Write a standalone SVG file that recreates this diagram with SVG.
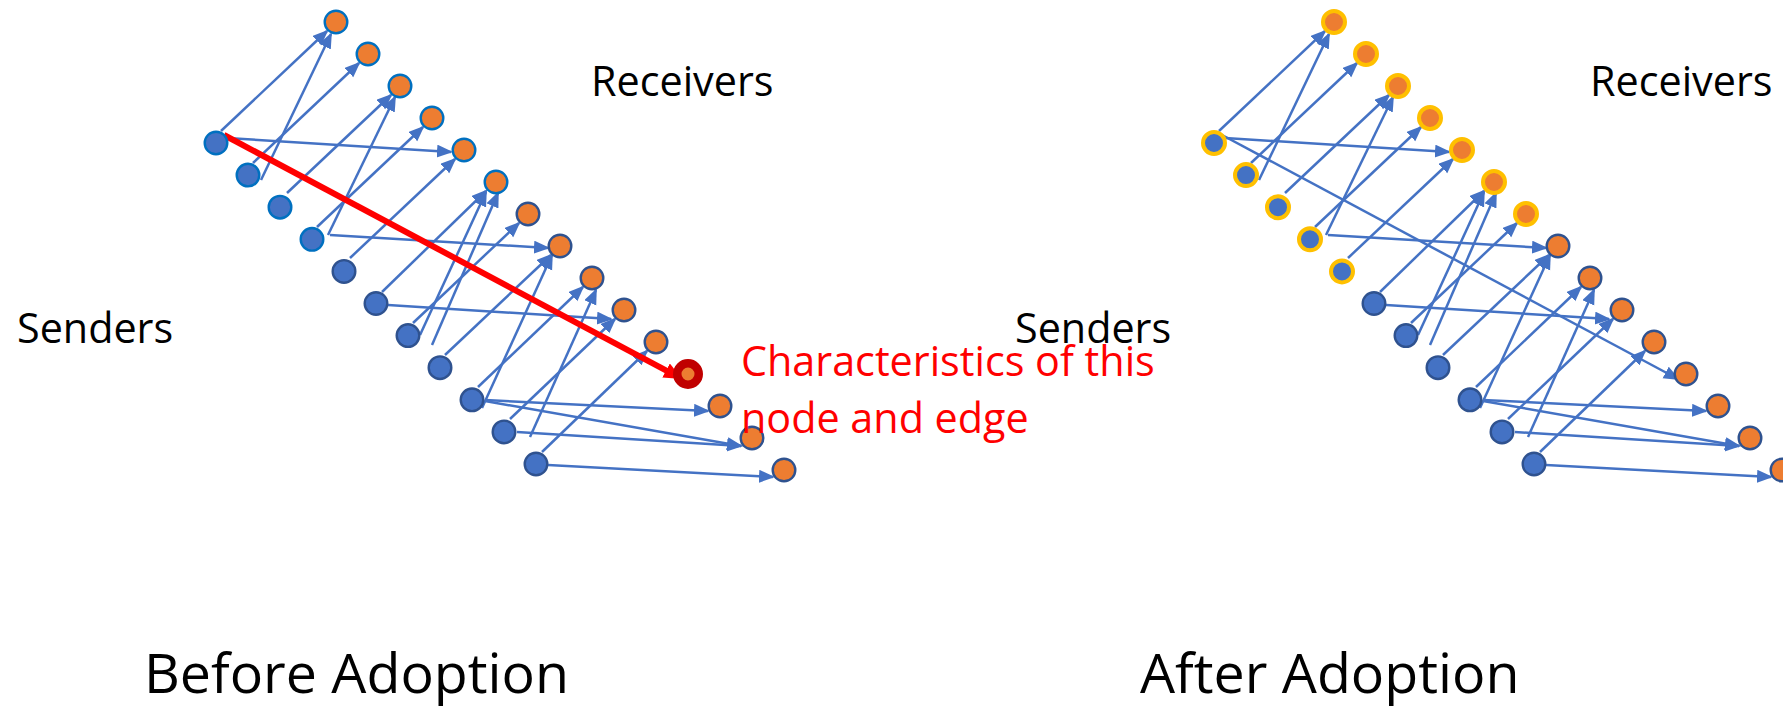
<svg xmlns="http://www.w3.org/2000/svg" width="1783" height="707" viewBox="0 0 1783 707">
<style>
.e{stroke:#4472C4;stroke-width:2.5;fill:none;marker-end:url(#ah)}
.red{stroke:#FF0000;stroke-width:6;fill:none;marker-end:url(#rh)}
.s{fill:#4472C4}
.r{fill:#ED7D31}
.lb{stroke:#0070C0;stroke-width:2.4}
.dk{stroke:#2F528F;stroke-width:2.4}
.gd{stroke:#FFC000;stroke-width:4}
.hl{stroke:#C00000;stroke-width:8.5}
text{font-family:"Open Sans","Liberation Sans",sans-serif;fill:#000}
.lab{font-size:41.3px}
.big{font-size:55.5px}
.rt{fill:#FF0000}
</style>
<defs>
<marker id="ah" markerUnits="userSpaceOnUse" markerWidth="17" markerHeight="15" refX="14" refY="6.5" orient="auto"><path d="M0,0 L16,6.5 L0,13 z" fill="#4472C4"/></marker>
<marker id="rh" markerUnits="userSpaceOnUse" markerWidth="19" markerHeight="17" refX="11" refY="8" orient="auto"><path d="M0,0 L18,8 L0,16 z" fill="#FF0000"/></marker>
</defs>
<g id="connectors">
<line class="e" x1="221" y1="131" x2="327" y2="31"/>
<line class="e" x1="261" y1="180" x2="331" y2="34"/>
<line class="e" x1="253" y1="163" x2="359" y2="63"/>
<line class="e" x1="227" y1="138" x2="451" y2="152"/>
<line class="e" x1="350" y1="258" x2="455" y2="159"/>
<line class="e" x1="287" y1="193" x2="391" y2="95"/>
<line class="e" x1="328" y1="235" x2="395" y2="97"/>
<line class="e" x1="317" y1="227" x2="423" y2="127"/>
<line class="e" x1="330" y1="235" x2="548" y2="248"/>
<line class="e" x1="382" y1="292" x2="486" y2="191"/>
<line class="e" x1="388" y1="305" x2="611" y2="319"/>
<line class="e" x1="413" y1="323" x2="519" y2="223"/>
<line class="e" x1="420" y1="335" x2="486" y2="192"/>
<line class="e" x1="432" y1="345" x2="498" y2="193"/>
<line class="e" x1="445" y1="355" x2="551" y2="255"/>
<line class="e" x1="482" y1="408" x2="552" y2="255"/>
<line class="e" x1="478" y1="387" x2="583" y2="287"/>
<line class="e" x1="485" y1="400" x2="708" y2="411"/>
<line class="e" x1="485" y1="401" x2="741" y2="446"/>
<line class="e" x1="517" y1="432" x2="741" y2="446"/>
<line class="e" x1="510" y1="419" x2="615" y2="319"/>
<line class="e" x1="530" y1="437" x2="596" y2="290"/>
<line class="e" x1="542" y1="452" x2="647" y2="351"/>
<line class="e" x1="548" y1="465" x2="773" y2="477"/>
<line class="red" x1="224" y1="135" x2="675.8" y2="375.7"/>
<line class="e" x1="1219" y1="131" x2="1325" y2="31"/>
<line class="e" x1="1259" y1="180" x2="1329" y2="34"/>
<line class="e" x1="1251" y1="163" x2="1357" y2="63"/>
<line class="e" x1="1225" y1="138" x2="1449" y2="152"/>
<line class="e" x1="1222" y1="135" x2="1678" y2="379"/>
<line class="e" x1="1348" y1="258" x2="1453" y2="159"/>
<line class="e" x1="1285" y1="193" x2="1389" y2="95"/>
<line class="e" x1="1326" y1="235" x2="1393" y2="97"/>
<line class="e" x1="1315" y1="227" x2="1421" y2="127"/>
<line class="e" x1="1328" y1="235" x2="1546" y2="248"/>
<line class="e" x1="1380" y1="292" x2="1484" y2="191"/>
<line class="e" x1="1386" y1="305" x2="1609" y2="319"/>
<line class="e" x1="1411" y1="323" x2="1517" y2="223"/>
<line class="e" x1="1418" y1="335" x2="1484" y2="192"/>
<line class="e" x1="1430" y1="345" x2="1496" y2="193"/>
<line class="e" x1="1443" y1="355" x2="1549" y2="255"/>
<line class="e" x1="1480" y1="408" x2="1550" y2="255"/>
<line class="e" x1="1476" y1="387" x2="1581" y2="287"/>
<line class="e" x1="1483" y1="400" x2="1706" y2="411"/>
<line class="e" x1="1483" y1="401" x2="1739" y2="446"/>
<line class="e" x1="1515" y1="432" x2="1739" y2="446"/>
<line class="e" x1="1508" y1="419" x2="1613" y2="319"/>
<line class="e" x1="1528" y1="437" x2="1594" y2="290"/>
<line class="e" x1="1540" y1="452" x2="1645" y2="351"/>
<line class="e" x1="1546" y1="465" x2="1771" y2="477"/>
</g>
<g id="L-S1"><circle class="s lb" cx="216" cy="143" r="11.3"/></g>
<g id="L-S2"><circle class="s lb" cx="248" cy="175.1" r="11.3"/></g>
<g id="L-S3"><circle class="s lb" cx="280" cy="207.2" r="11.3"/></g>
<g id="L-S4"><circle class="s lb" cx="312" cy="239.3" r="11.3"/></g>
<g id="L-S5"><circle class="s dk" cx="344" cy="271.4" r="11.3"/></g>
<g id="L-S6"><circle class="s dk" cx="376" cy="303.5" r="11.3"/></g>
<g id="L-S7"><circle class="s dk" cx="408" cy="335.6" r="11.3"/></g>
<g id="L-S8"><circle class="s dk" cx="440" cy="367.7" r="11.3"/></g>
<g id="L-S9"><circle class="s dk" cx="472" cy="399.8" r="11.3"/></g>
<g id="L-S10"><circle class="s dk" cx="504" cy="431.9" r="11.3"/></g>
<g id="L-S11"><circle class="s dk" cx="536" cy="464" r="11.3"/></g>
<g id="L-R1"><circle class="r lb" cx="336" cy="22" r="11.3"/></g>
<g id="L-R2"><circle class="r lb" cx="368" cy="54" r="11.3"/></g>
<g id="L-R3"><circle class="r lb" cx="400" cy="86" r="11.3"/></g>
<g id="L-R4"><circle class="r lb" cx="432" cy="118" r="11.3"/></g>
<g id="L-R5"><circle class="r lb" cx="464" cy="150" r="11.3"/></g>
<g id="L-R6"><circle class="r lb" cx="496" cy="182" r="11.3"/></g>
<g id="L-R7"><circle class="r dk" cx="528" cy="214" r="11.3"/></g>
<g id="L-R8"><circle class="r dk" cx="560" cy="246" r="11.3"/></g>
<g id="L-R9"><circle class="r dk" cx="592" cy="278" r="11.3"/></g>
<g id="L-R10"><circle class="r dk" cx="624" cy="310" r="11.3"/></g>
<g id="L-R11"><circle class="r dk" cx="656" cy="342" r="11.3"/></g>
<g id="L-R12"><circle class="r hl" cx="688" cy="374" r="10.75"/></g>
<g id="L-R13"><circle class="r dk" cx="720" cy="406" r="11.3"/></g>
<g id="L-R14"><circle class="r dk" cx="752" cy="438" r="11.3"/></g>
<g id="L-R15"><circle class="r dk" cx="784" cy="470" r="11.3"/></g>
<g id="R-S1"><circle class="s gd" cx="1214" cy="143" r="11"/></g>
<g id="R-S2"><circle class="s gd" cx="1246" cy="175.1" r="11"/></g>
<g id="R-S3"><circle class="s gd" cx="1278" cy="207.2" r="11"/></g>
<g id="R-S4"><circle class="s gd" cx="1310" cy="239.3" r="11"/></g>
<g id="R-S5"><circle class="s gd" cx="1342" cy="271.4" r="11"/></g>
<g id="R-S6"><circle class="s dk" cx="1374" cy="303.5" r="11.3"/></g>
<g id="R-S7"><circle class="s dk" cx="1406" cy="335.6" r="11.3"/></g>
<g id="R-S8"><circle class="s dk" cx="1438" cy="367.7" r="11.3"/></g>
<g id="R-S9"><circle class="s dk" cx="1470" cy="399.8" r="11.3"/></g>
<g id="R-S10"><circle class="s dk" cx="1502" cy="431.9" r="11.3"/></g>
<g id="R-S11"><circle class="s dk" cx="1534" cy="464" r="11.3"/></g>
<g id="R-R1"><circle class="r gd" cx="1334" cy="22" r="11"/></g>
<g id="R-R2"><circle class="r gd" cx="1366" cy="54" r="11"/></g>
<g id="R-R3"><circle class="r gd" cx="1398" cy="86" r="11"/></g>
<g id="R-R4"><circle class="r gd" cx="1430" cy="118" r="11"/></g>
<g id="R-R5"><circle class="r gd" cx="1462" cy="150" r="11"/></g>
<g id="R-R6"><circle class="r gd" cx="1494" cy="182" r="11"/></g>
<g id="R-R7"><circle class="r gd" cx="1526" cy="214" r="11"/></g>
<g id="R-R8"><circle class="r dk" cx="1558" cy="246" r="11.3"/></g>
<g id="R-R9"><circle class="r dk" cx="1590" cy="278" r="11.3"/></g>
<g id="R-R10"><circle class="r dk" cx="1622" cy="310" r="11.3"/></g>
<g id="R-R11"><circle class="r dk" cx="1654" cy="342" r="11.3"/></g>
<g id="R-R12"><circle class="r dk" cx="1686" cy="374" r="11.3"/></g>
<g id="R-R13"><circle class="r dk" cx="1718" cy="406" r="11.3"/></g>
<g id="R-R14"><circle class="r dk" cx="1750" cy="438" r="11.3"/></g>
<g id="R-R15"><circle class="r dk" cx="1782" cy="470" r="11.3"/></g>
<g id="labels">
<text class="lab" x="591" y="96">Receivers</text>
<text class="lab" x="1590" y="96">Receivers</text>
<text class="lab" x="17" y="343">Senders</text>
<text class="lab" x="1015" y="343">Senders</text>
<text class="lab rt" x="741" y="376">Characteristics of this</text>
<text class="lab rt" x="741" y="433">node and edge</text>
<text class="big" x="144" y="693">Before Adoption</text>
<text class="big" x="1140" y="693">After Adoption</text>
</g>
</svg>
